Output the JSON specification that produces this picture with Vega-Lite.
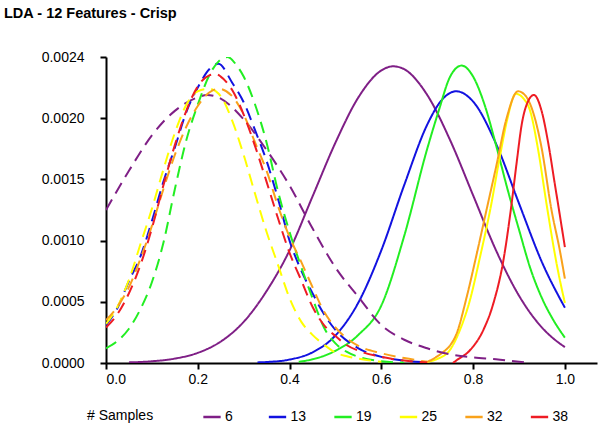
{
"$schema": "https://vega.github.io/schema/vega-lite/v6.json",
"width": 491, "height": 306,
"autosize": {"type": "none"},
"padding": {"left": 106, "top": 57, "right": 7, "bottom": 65},
"background": "white",
"title": {"text": "LDA - 12 Features - Crisp", "anchor": "start", "frame": "group", "font": "Liberation Sans", "fontSize": 14.5, "fontWeight": "bold", "color": "black", "dx": -102, "offset": 29},
"config": {"view": {"stroke": null}, "font": "Liberation Sans"},
"data": {"values": [
{"s":"6","k":"solid","x":0.05,"y":0.005e-3},{"s":"6","k":"solid","x":0.10,"y":0.014e-3},{"s":"6","k":"solid","x":0.15,"y":0.036e-3},{"s":"6","k":"solid","x":0.20,"y":0.083e-3},{"s":"6","k":"solid","x":0.25,"y":0.175e-3},{"s":"6","k":"solid","x":0.30,"y":0.336e-3},{"s":"6","k":"solid","x":0.35,"y":0.588e-3},{"s":"6","k":"solid","x":0.40,"y":0.92e-3},{"s":"6","k":"solid","x":0.45,"y":1.36e-3},{"s":"6","k":"solid","x":0.50,"y":1.80e-3},{"s":"6","k":"solid","x":0.55,"y":2.17e-3},{"s":"6","k":"solid","x":0.60,"y":2.39e-3},{"s":"6","k":"solid","x":0.626,"y":2.424e-3},{"s":"6","k":"solid","x":0.65,"y":2.40e-3},{"s":"6","k":"solid","x":0.70,"y":2.19e-3},{"s":"6","k":"solid","x":0.75,"y":1.82e-3},{"s":"6","k":"solid","x":0.80,"y":1.37e-3},{"s":"6","k":"solid","x":0.85,"y":0.92e-3},{"s":"6","k":"solid","x":0.90,"y":0.55e-3},{"s":"6","k":"solid","x":0.95,"y":0.29e-3},{"s":"6","k":"solid","x":0.975,"y":0.20e-3},{"s":"6","k":"solid","x":1.0,"y":0.13e-3},
{"s":"13","k":"solid","x":0.33,"y":0.005e-3},{"s":"13","k":"solid","x":0.35,"y":0.008e-3},{"s":"13","k":"solid","x":0.40,"y":0.028e-3},{"s":"13","k":"solid","x":0.45,"y":0.087e-3},{"s":"13","k":"solid","x":0.50,"y":0.225e-3},{"s":"13","k":"solid","x":0.55,"y":0.494e-3},{"s":"13","k":"solid","x":0.60,"y":0.921e-3},{"s":"13","k":"solid","x":0.65,"y":1.455e-3},{"s":"13","k":"solid","x":0.70,"y":1.947e-3},{"s":"13","k":"solid","x":0.73,"y":2.141e-3},{"s":"13","k":"solid","x":0.763,"y":2.22e-3},{"s":"13","k":"solid","x":0.80,"y":2.136e-3},{"s":"13","k":"solid","x":0.85,"y":1.791e-3},{"s":"13","k":"solid","x":0.90,"y":1.304e-3},{"s":"13","k":"solid","x":0.95,"y":0.824e-3},{"s":"13","k":"solid","x":1.0,"y":0.452e-3},
{"s":"19","k":"solid","x":0.42,"y":0.01e-3},{"s":"19","k":"solid","x":0.45,"y":0.03e-3},{"s":"19","k":"solid","x":0.50,"y":0.10e-3},{"s":"19","k":"solid","x":0.55,"y":0.23e-3},{"s":"19","k":"solid","x":0.60,"y":0.47e-3},{"s":"19","k":"solid","x":0.65,"y":1.04e-3},{"s":"19","k":"solid","x":0.70,"y":1.75e-3},{"s":"19","k":"solid","x":0.725,"y":2.06e-3},{"s":"19","k":"solid","x":0.75,"y":2.34e-3},{"s":"19","k":"solid","x":0.775,"y":2.43e-3},{"s":"19","k":"solid","x":0.80,"y":2.34e-3},{"s":"19","k":"solid","x":0.825,"y":2.11e-3},{"s":"19","k":"solid","x":0.85,"y":1.78e-3},{"s":"19","k":"solid","x":0.875,"y":1.42e-3},{"s":"19","k":"solid","x":0.90,"y":1.09e-3},{"s":"19","k":"solid","x":0.925,"y":0.77e-3},{"s":"19","k":"solid","x":0.95,"y":0.53e-3},{"s":"19","k":"solid","x":0.975,"y":0.35e-3},{"s":"19","k":"solid","x":1.0,"y":0.207e-3},
{"s":"25","k":"solid","x":0.685,"y":0.0},{"s":"25","k":"solid","x":0.70,"y":0.008e-3},{"s":"25","k":"solid","x":0.72,"y":0.03e-3},{"s":"25","k":"solid","x":0.749,"y":0.104e-3},{"s":"25","k":"solid","x":0.771,"y":0.267e-3},{"s":"25","k":"solid","x":0.793,"y":0.512e-3},{"s":"25","k":"solid","x":0.815,"y":0.865e-3},{"s":"25","k":"solid","x":0.837,"y":1.247e-3},{"s":"25","k":"solid","x":0.86,"y":1.72e-3},{"s":"25","k":"solid","x":0.875,"y":2.0e-3},{"s":"25","k":"solid","x":0.893,"y":2.20e-3},{"s":"25","k":"solid","x":0.91,"y":2.16e-3},{"s":"25","k":"solid","x":0.924,"y":2.063e-3},{"s":"25","k":"solid","x":0.942,"y":1.736e-3},{"s":"25","k":"solid","x":0.96,"y":1.30e-3},{"s":"25","k":"solid","x":0.982,"y":0.811e-3},{"s":"25","k":"solid","x":1.0,"y":0.49e-3},
{"s":"32","k":"solid","x":0.69,"y":0.0},{"s":"32","k":"solid","x":0.70,"y":0.01e-3},{"s":"32","k":"solid","x":0.72,"y":0.05e-3},{"s":"32","k":"solid","x":0.735,"y":0.09e-3},{"s":"32","k":"solid","x":0.749,"y":0.14e-3},{"s":"32","k":"solid","x":0.764,"y":0.24e-3},{"s":"32","k":"solid","x":0.786,"y":0.539e-3},{"s":"32","k":"solid","x":0.808,"y":0.893e-3},{"s":"32","k":"solid","x":0.829,"y":1.247e-3},{"s":"32","k":"solid","x":0.85,"y":1.60e-3},{"s":"32","k":"solid","x":0.873,"y":2.0e-3},{"s":"32","k":"solid","x":0.898,"y":2.22e-3},{"s":"32","k":"solid","x":0.915,"y":2.18e-3},{"s":"32","k":"solid","x":0.927,"y":2.09e-3},{"s":"32","k":"solid","x":0.949,"y":1.763e-3},{"s":"32","k":"solid","x":0.971,"y":1.247e-3},{"s":"32","k":"solid","x":0.989,"y":0.92e-3},{"s":"32","k":"solid","x":1.0,"y":0.689e-3},
{"s":"38","k":"solid","x":0.756,"y":0.0},{"s":"38","k":"solid","x":0.764,"y":0.022e-3},{"s":"38","k":"solid","x":0.793,"y":0.104e-3},{"s":"38","k":"solid","x":0.822,"y":0.267e-3},{"s":"38","k":"solid","x":0.844,"y":0.485e-3},{"s":"38","k":"solid","x":0.866,"y":0.838e-3},{"s":"38","k":"solid","x":0.882,"y":1.247e-3},{"s":"38","k":"solid","x":0.895,"y":1.64e-3},{"s":"38","k":"solid","x":0.906,"y":1.95e-3},{"s":"38","k":"solid","x":0.92,"y":2.14e-3},{"s":"38","k":"solid","x":0.9325,"y":2.19e-3},{"s":"38","k":"solid","x":0.949,"y":2.063e-3},{"s":"38","k":"solid","x":0.964,"y":1.791e-3},{"s":"38","k":"solid","x":0.978,"y":1.464e-3},{"s":"38","k":"solid","x":0.9855,"y":1.29e-3},{"s":"38","k":"solid","x":1.0,"y":0.947e-3},
{"s":"6","k":"dash","x":0.0,"y":1.25e-3},{"s":"6","k":"dash","x":0.05,"y":1.57e-3},{"s":"6","k":"dash","x":0.10,"y":1.86e-3},{"s":"6","k":"dash","x":0.15,"y":2.06e-3},{"s":"6","k":"dash","x":0.20,"y":2.17e-3},{"s":"6","k":"dash","x":0.22,"y":2.19e-3},{"s":"6","k":"dash","x":0.25,"y":2.16e-3},{"s":"6","k":"dash","x":0.30,"y":1.99e-3},{"s":"6","k":"dash","x":0.35,"y":1.74e-3},{"s":"6","k":"dash","x":0.40,"y":1.45e-3},{"s":"6","k":"dash","x":0.45,"y":1.10e-3},{"s":"6","k":"dash","x":0.50,"y":0.78e-3},{"s":"6","k":"dash","x":0.55,"y":0.54e-3},{"s":"6","k":"dash","x":0.60,"y":0.31e-3},{"s":"6","k":"dash","x":0.65,"y":0.19e-3},{"s":"6","k":"dash","x":0.70,"y":0.12e-3},{"s":"6","k":"dash","x":0.75,"y":0.07e-3},{"s":"6","k":"dash","x":0.80,"y":0.045e-3},{"s":"6","k":"dash","x":0.85,"y":0.03e-3},{"s":"6","k":"dash","x":0.90,"y":0.01e-3},{"s":"6","k":"dash","x":0.92,"y":0.003e-3},
{"s":"13","k":"dash","x":0.0,"y":0.31e-3},{"s":"13","k":"dash","x":0.025,"y":0.45e-3},{"s":"13","k":"dash","x":0.05,"y":0.67e-3},{"s":"13","k":"dash","x":0.075,"y":0.87e-3},{"s":"13","k":"dash","x":0.10,"y":1.16e-3},{"s":"13","k":"dash","x":0.125,"y":1.48e-3},{"s":"13","k":"dash","x":0.15,"y":1.76e-3},{"s":"13","k":"dash","x":0.175,"y":2.05e-3},{"s":"13","k":"dash","x":0.20,"y":2.25e-3},{"s":"13","k":"dash","x":0.225,"y":2.40e-3},{"s":"13","k":"dash","x":0.245,"y":2.445e-3},{"s":"13","k":"dash","x":0.275,"y":2.29e-3},{"s":"13","k":"dash","x":0.30,"y":2.13e-3},{"s":"13","k":"dash","x":0.325,"y":1.90e-3},{"s":"13","k":"dash","x":0.35,"y":1.65e-3},{"s":"13","k":"dash","x":0.375,"y":1.34e-3},{"s":"13","k":"dash","x":0.40,"y":1.00e-3},{"s":"13","k":"dash","x":0.425,"y":0.76e-3},{"s":"13","k":"dash","x":0.45,"y":0.57e-3},{"s":"13","k":"dash","x":0.475,"y":0.40e-3},{"s":"13","k":"dash","x":0.50,"y":0.27e-3},{"s":"13","k":"dash","x":0.55,"y":0.12e-3},{"s":"13","k":"dash","x":0.60,"y":0.05e-3},{"s":"13","k":"dash","x":0.65,"y":0.02e-3},{"s":"13","k":"dash","x":0.70,"y":0.005e-3},
{"s":"19","k":"dash","x":0.0,"y":0.12e-3},{"s":"19","k":"dash","x":0.025,"y":0.18e-3},{"s":"19","k":"dash","x":0.05,"y":0.28e-3},{"s":"19","k":"dash","x":0.075,"y":0.44e-3},{"s":"19","k":"dash","x":0.10,"y":0.66e-3},{"s":"19","k":"dash","x":0.125,"y":0.98e-3},{"s":"19","k":"dash","x":0.15,"y":1.42e-3},{"s":"19","k":"dash","x":0.175,"y":1.82e-3},{"s":"19","k":"dash","x":0.20,"y":2.11e-3},{"s":"19","k":"dash","x":0.225,"y":2.35e-3},{"s":"19","k":"dash","x":0.25,"y":2.48e-3},{"s":"19","k":"dash","x":0.265,"y":2.50e-3},{"s":"19","k":"dash","x":0.285,"y":2.43e-3},{"s":"19","k":"dash","x":0.30,"y":2.34e-3},{"s":"19","k":"dash","x":0.325,"y":2.11e-3},{"s":"19","k":"dash","x":0.35,"y":1.80e-3},{"s":"19","k":"dash","x":0.375,"y":1.40e-3},{"s":"19","k":"dash","x":0.40,"y":1.07e-3},{"s":"19","k":"dash","x":0.425,"y":0.79e-3},{"s":"19","k":"dash","x":0.45,"y":0.53e-3},{"s":"19","k":"dash","x":0.475,"y":0.29e-3},{"s":"19","k":"dash","x":0.50,"y":0.16e-3},{"s":"19","k":"dash","x":0.525,"y":0.09e-3},{"s":"19","k":"dash","x":0.55,"y":0.05e-3},{"s":"19","k":"dash","x":0.60,"y":0.015e-3},{"s":"19","k":"dash","x":0.65,"y":0.003e-3},
{"s":"25","k":"dash","x":0.0,"y":0.32e-3},{"s":"25","k":"dash","x":0.025,"y":0.46e-3},{"s":"25","k":"dash","x":0.05,"y":0.68e-3},{"s":"25","k":"dash","x":0.075,"y":0.97e-3},{"s":"25","k":"dash","x":0.10,"y":1.26e-3},{"s":"25","k":"dash","x":0.125,"y":1.58e-3},{"s":"25","k":"dash","x":0.15,"y":1.88e-3},{"s":"25","k":"dash","x":0.175,"y":2.11e-3},{"s":"25","k":"dash","x":0.20,"y":2.22e-3},{"s":"25","k":"dash","x":0.225,"y":2.24e-3},{"s":"25","k":"dash","x":0.25,"y":2.18e-3},{"s":"25","k":"dash","x":0.275,"y":1.98e-3},{"s":"25","k":"dash","x":0.30,"y":1.70e-3},{"s":"25","k":"dash","x":0.325,"y":1.38e-3},{"s":"25","k":"dash","x":0.35,"y":1.07e-3},{"s":"25","k":"dash","x":0.375,"y":0.80e-3},{"s":"25","k":"dash","x":0.40,"y":0.53e-3},{"s":"25","k":"dash","x":0.425,"y":0.34e-3},{"s":"25","k":"dash","x":0.45,"y":0.23e-3},{"s":"25","k":"dash","x":0.475,"y":0.15e-3},{"s":"25","k":"dash","x":0.50,"y":0.085e-3},{"s":"25","k":"dash","x":0.525,"y":0.055e-3},{"s":"25","k":"dash","x":0.55,"y":0.035e-3},{"s":"25","k":"dash","x":0.60,"y":0.01e-3},
{"s":"32","k":"dash","x":0.0,"y":0.35e-3},{"s":"32","k":"dash","x":0.025,"y":0.46e-3},{"s":"32","k":"dash","x":0.05,"y":0.62e-3},{"s":"32","k":"dash","x":0.075,"y":0.85e-3},{"s":"32","k":"dash","x":0.10,"y":1.12e-3},{"s":"32","k":"dash","x":0.125,"y":1.42e-3},{"s":"32","k":"dash","x":0.15,"y":1.70e-3},{"s":"32","k":"dash","x":0.175,"y":1.93e-3},{"s":"32","k":"dash","x":0.20,"y":2.10e-3},{"s":"32","k":"dash","x":0.225,"y":2.21e-3},{"s":"32","k":"dash","x":0.245,"y":2.24e-3},{"s":"32","k":"dash","x":0.275,"y":2.18e-3},{"s":"32","k":"dash","x":0.30,"y":2.03e-3},{"s":"32","k":"dash","x":0.325,"y":1.80e-3},{"s":"32","k":"dash","x":0.35,"y":1.57e-3},{"s":"32","k":"dash","x":0.375,"y":1.28e-3},{"s":"32","k":"dash","x":0.40,"y":1.03e-3},{"s":"32","k":"dash","x":0.425,"y":0.83e-3},{"s":"32","k":"dash","x":0.45,"y":0.62e-3},{"s":"32","k":"dash","x":0.475,"y":0.42e-3},{"s":"32","k":"dash","x":0.50,"y":0.29e-3},{"s":"32","k":"dash","x":0.525,"y":0.20e-3},{"s":"32","k":"dash","x":0.55,"y":0.14e-3},{"s":"32","k":"dash","x":0.60,"y":0.08e-3},{"s":"32","k":"dash","x":0.65,"y":0.04e-3},{"s":"32","k":"dash","x":0.70,"y":0.01e-3},
{"s":"38","k":"dash","x":0.0,"y":0.29e-3},{"s":"38","k":"dash","x":0.025,"y":0.40e-3},{"s":"38","k":"dash","x":0.05,"y":0.57e-3},{"s":"38","k":"dash","x":0.075,"y":0.80e-3},{"s":"38","k":"dash","x":0.10,"y":1.10e-3},{"s":"38","k":"dash","x":0.125,"y":1.45e-3},{"s":"38","k":"dash","x":0.15,"y":1.78e-3},{"s":"38","k":"dash","x":0.175,"y":2.06e-3},{"s":"38","k":"dash","x":0.20,"y":2.26e-3},{"s":"38","k":"dash","x":0.225,"y":2.35e-3},{"s":"38","k":"dash","x":0.24,"y":2.36e-3},{"s":"38","k":"dash","x":0.25,"y":2.34e-3},{"s":"38","k":"dash","x":0.275,"y":2.23e-3},{"s":"38","k":"dash","x":0.30,"y":2.03e-3},{"s":"38","k":"dash","x":0.325,"y":1.77e-3},{"s":"38","k":"dash","x":0.35,"y":1.48e-3},{"s":"38","k":"dash","x":0.375,"y":1.18e-3},{"s":"38","k":"dash","x":0.40,"y":0.90e-3},{"s":"38","k":"dash","x":0.425,"y":0.68e-3},{"s":"38","k":"dash","x":0.45,"y":0.46e-3},{"s":"38","k":"dash","x":0.475,"y":0.31e-3},{"s":"38","k":"dash","x":0.50,"y":0.22e-3},{"s":"38","k":"dash","x":0.525,"y":0.145e-3},{"s":"38","k":"dash","x":0.55,"y":0.10e-3},{"s":"38","k":"dash","x":0.60,"y":0.05e-3},{"s":"38","k":"dash","x":0.65,"y":0.02e-3},{"s":"38","k":"dash","x":0.70,"y":0.005e-3}
]},
"mark": {"type": "line", "interpolate": "monotone", "strokeWidth": 2, "clip": true},
"encoding": {
"x": {"field": "x", "type": "quantitative", "scale": {"domain": [0, 1.07], "nice": false, "zero": false},
 "axis": {"values": [0, 0.2, 0.4, 0.6, 0.8, 1.0], "format": ".1f", "title": null, "grid": false, "domainColor": "black", "domainWidth": 2, "tickColor": "black", "tickWidth": 2, "tickSize": 6, "labelFont": "Liberation Sans", "labelFontSize": 14, "labelColor": "black", "labelPadding": 3}},
"y": {"field": "y", "type": "quantitative", "scale": {"domain": [0, 0.0025], "nice": false},
 "axis": {"values": [0, 0.0005, 0.001, 0.0015, 0.002, 0.0025], "labelExpr": "datum.value > 0.00249 ? '0.0024' : format(datum.value, '.4f')", "title": null, "grid": false, "domainColor": "black", "domainWidth": 2, "tickColor": "black", "tickWidth": 2, "tickSize": 6, "labelFont": "Liberation Sans", "labelFontSize": 14, "labelColor": "black", "labelPadding": 16}},
"color": {"field": "s", "type": "nominal",
 "scale": {"domain": ["6", "13", "19", "25", "32", "38"], "range": ["#7f1f86", "#1212e0", "#22ee22", "#ffff00", "#f9a21b", "#ee1c24"]},
 "legend": {"title": "# Samples", "orient": "none", "legendX": -19, "legendY": 350, "direction": "horizontal", "columns": 6, "gridAlign": "all", "columnPadding": 22.5, "titleOrient": "left", "titlePadding": 48, "titleFontSize": 14, "titleFontWeight": "normal", "titleColor": "black", "titleFont": "Liberation Sans", "labelFontSize": 14, "labelColor": "black", "labelFont": "Liberation Sans", "symbolType": "stroke", "symbolSize": 300, "symbolStrokeWidth": 2.5, "labelOffset": 3, "padding": 0}},
"strokeDash": {"field": "k", "type": "nominal", "scale": {"domain": ["solid", "dash"], "range": [[1, 0], [12, 7]]}, "legend": null}
}
}
